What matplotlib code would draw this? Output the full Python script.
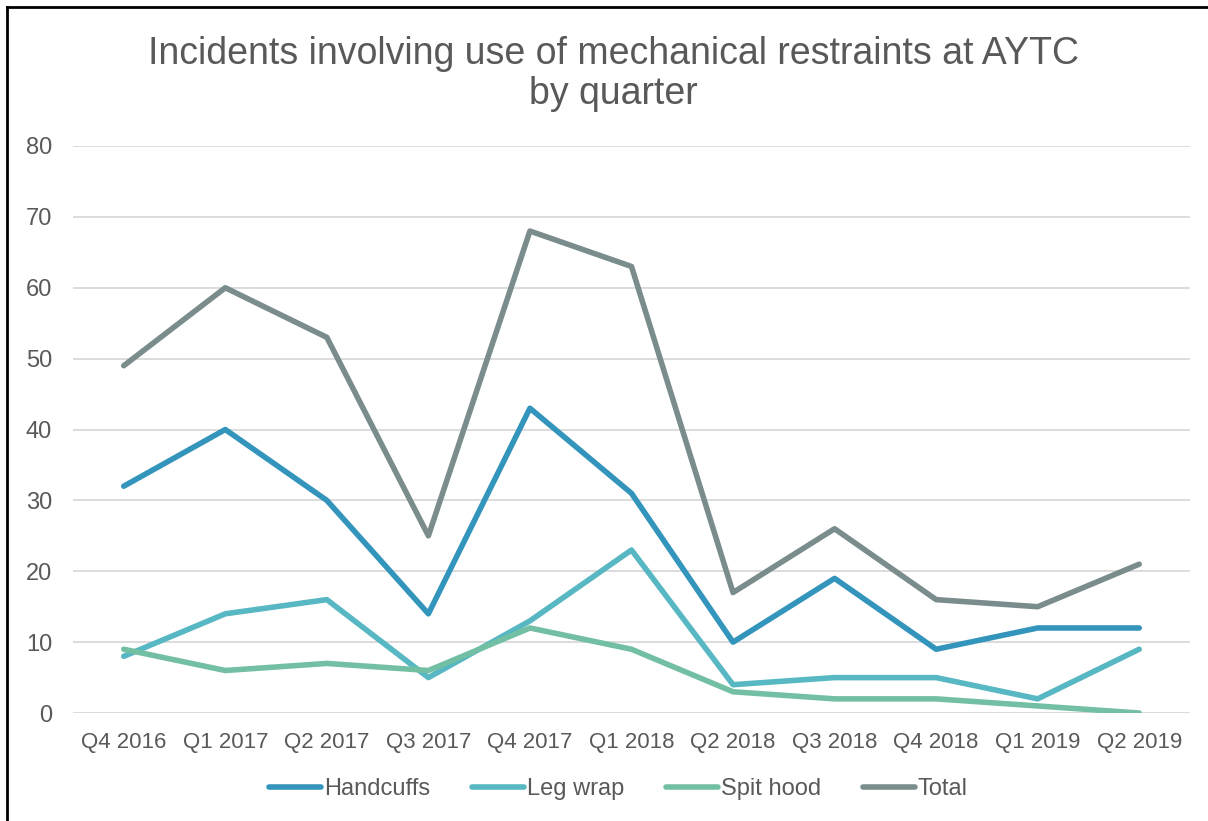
import matplotlib.pyplot as plt
from matplotlib.lines import Line2D

plt.rcParams['font.family'] = ['Liberation Sans', 'DejaVu Sans']

quarters = ['Q4 2016', 'Q1 2017', 'Q2 2017', 'Q3 2017', 'Q4 2017', 'Q1 2018',
            'Q2 2018', 'Q3 2018', 'Q4 2018', 'Q1 2019', 'Q2 2019']
handcuffs = [32, 40, 30, 14, 43, 31, 10, 19, 9, 12, 12]
leg_wrap = [8, 14, 16, 5, 13, 23, 4, 5, 5, 2, 9]
spit_hood = [9, 6, 7, 6, 12, 9, 3, 2, 2, 1, 0]
total = [49, 60, 53, 25, 68, 63, 17, 26, 16, 15, 21]

series = [
    ('Handcuffs', handcuffs, '#3394BC'),
    ('Leg wrap', leg_wrap, '#57B7C2'),
    ('Spit hood', spit_hood, '#72BFA3'),
    ('Total', total, '#7A8C8C'),
]

txt = '#595959'

fig = plt.figure(figsize=(12.08, 8.21), dpi=100)
ax = fig.add_axes([0.0604, 0.1315, 0.9247, 0.6907])

x = range(len(quarters))
for name, vals, col in series:
    ax.plot(x, vals, color=col, lw=4, solid_capstyle='round',
            solid_joinstyle='round', label=name)

ax.set_xlim(-0.5, len(quarters) - 0.5)
ax.set_ylim(0, 80)
ax.set_yticks(range(0, 81, 10))
ax.set_xticks(list(x))
ax.set_xticklabels(quarters)
ax.grid(axis='y', color='#D9D9D9', lw=1.3)
ax.set_axisbelow(True)
for s in ax.spines.values():
    s.set_visible(False)
ax.tick_params(length=0, labelcolor=txt)
ax.tick_params(axis='x', labelsize=16, pad=14)
ax.tick_params(axis='y', labelsize=17, pad=15)

fig.text(0.508, 0.91, 'Incidents involving use of mechanical restraints at AYTC\nby quarter',
         ha='center', va='center', fontsize=27, color=txt, linespacing=1.15)

fig.legend(loc='center', bbox_to_anchor=(0.512, 0.039), ncol=4, frameon=False,
           fontsize=17, labelcolor=txt, handlelength=2.2, handletextpad=0.1,
           columnspacing=1.8)

# border on left and top only
fig.add_artist(Line2D([0.0055, 0.0055], [0, 0.991], transform=fig.transFigure,
                      color='black', lw=2))
fig.add_artist(Line2D([0.0055, 1], [0.991, 0.991], transform=fig.transFigure,
                      color='black', lw=2))

fig.savefig('out.png', dpi=100)
